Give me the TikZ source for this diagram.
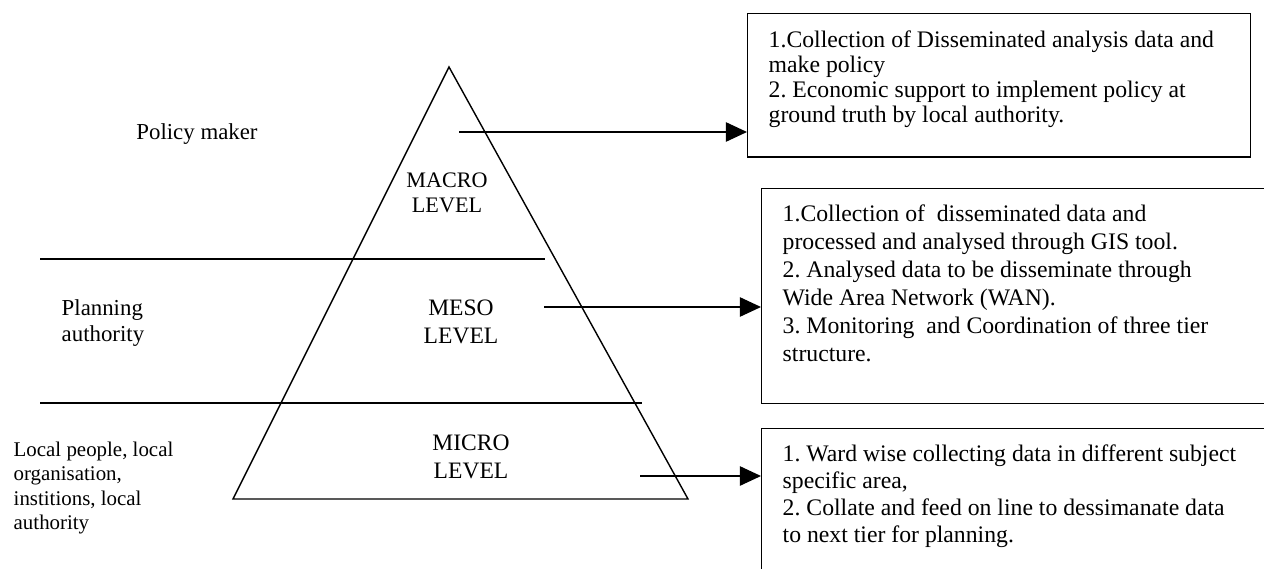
\documentclass[tikz,border=0pt]{standalone}
\usepackage{fontspec}
\setmainfont{Liberation Serif}
\usetikzlibrary{arrows.meta,positioning}
\frenchspacing

\tikzset{
    frame/.style={draw, line width=0.8pt, anchor=north west, inner sep=0pt},
    boxtext/.style={anchor=north west, inner sep=0pt, align=left,
        font=\fontsize{13.5}{14.2}\selectfont},
    leveltext/.style={align=center, inner sep=0pt, font=\fontsize{13.4}{15.6}\selectfont},
    sidetext/.style={align=left, inner sep=0pt, font=\fontsize{13}{15.2}\selectfont},
}

\begin{document}
\begin{tikzpicture}[x=0.02cm, y=-0.02cm, >={Triangle[length=12pt,width=11pt]}, line width=0.8pt]
            \useasboundingbox (0,0) rectangle (1264,568);
            \clip (0,0) rectangle (1264,568);
            % ==== PYRAMID ====
            \draw (233,499) -- (449,67) -- (688,499) -- cycle;
            \draw (40,259) -- (545,259);
            \draw (40,403) -- (642,403);
            \node[leveltext, font=\fontsize{12.6}{14.2}\selectfont] (macro) at (447,193) {MACRO\\LEVEL};
            \node[leveltext] (meso) at (461,322) {MESO\\LEVEL};
            \node[leveltext] (micro) at (471,457) {MICRO\\LEVEL};

            % ==== LEFT LABELS ====
            \node[sidetext] (policy) at (197,134) {Policy maker};
            \node[sidetext, anchor=west] (planning) at (61,323) {Planning\\authority};
            \node[sidetext, anchor=west, font=\fontsize{11.9}{13.9}\selectfont] (local) at (13,488)
                {Local people, local\\organisation,\\institions, local\\authority};

            % ==== BOXES ====
            \node[frame, minimum width=10.06cm, minimum height=2.87cm] (box1) at (747,13) {};
            \node[frame, minimum width=10.4cm, minimum height=4.3cm] (box2) at (761,188) {};
            \node[frame, minimum width=10.4cm, minimum height=3.4cm] (box3) at (761,428) {};
            \node[boxtext] (t1) at ([shift={(21,17)}]box1.north west)
                {1.Collection of Disseminated analysis data and\\make policy\\2. Economic support to implement policy at\\ground truth by local authority.};
            \node[boxtext, font=\fontsize{13.5}{15.9}\selectfont] (t2) at ([shift={(21,16)}]box2.north west)
                {1.Collection of\ \ disseminated data and\\processed and analysed through GIS tool.\\2. Analysed data to be disseminate through\\Wide Area Network (WAN).\\3. Monitoring\ \ and Coordination of three tier\\structure.};
            \node[boxtext, font=\fontsize{13.5}{15.4}\selectfont] (t3) at ([shift={(21,16)}]box3.north west)
                {1. Ward wise collecting data in different subject\\specific area,\\2. Collate and feed on line to dessimanate data\\to next tier for planning.};

            % ==== ARROWS ====
            \coordinate (s1) at (459,132);
            \coordinate (s2) at (544,307);
            \coordinate (s3) at (640,476);
            \draw[->] (s1) -- (s1 -| box1.west);
            \draw[->] (s2) -- (s2 -| box2.west);
            \draw[->] (s3) -- (s3 -| box3.west);
\end{tikzpicture}
\end{document}
